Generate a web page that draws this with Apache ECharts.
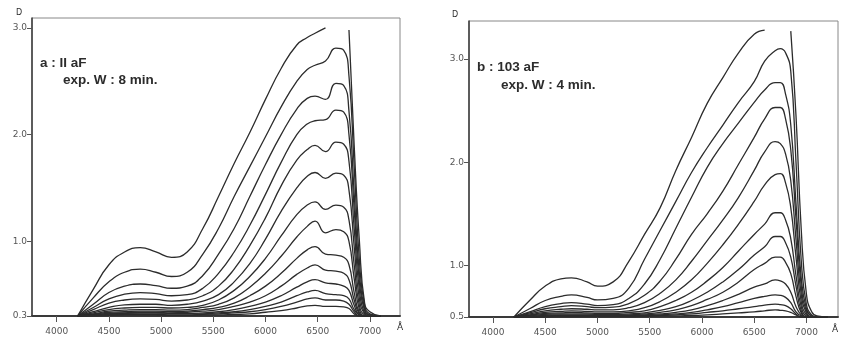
<!DOCTYPE html>
<html><head><meta charset="utf-8">
<script src="https://cdn.jsdelivr.net/npm/echarts@6/dist/echarts.min.js"></script>
<style>html,body{margin:0;padding:0;background:#fff}#c{width:841px;height:337px}</style>
</head><body><div id="c"></div>
<script>
// ---- Panel a : wavelength grid (Å) and density curves D ----
const waveA = [4200, 4350, 4500, 4650, 4800, 4950, 5100, 5250, 5400, 5550, 5700, 5850, 6000, 6150, 6300, 6400, 6475, 6575, 6675, 6750, 6800, 6850, 6900, 6950, 7000, 7100];
const a1  = [0.30, 0.55, 0.78, 0.90, 0.94, 0.90, 0.85, 0.90, 1.12, 1.42, 1.73, 2.02, 2.33, 2.62, 2.84, 2.91, 2.95, 3.00, '-', '-', 2.98, 1.90, 1.00, 0.42, 0.34, 0.30];
const a2  = [0.30, 0.47, 0.62, 0.71, 0.74, 0.71, 0.67, 0.71, 0.88, 1.12, 1.42, 1.70, 1.98, 2.26, 2.50, 2.61, 2.65, 2.69, 2.81, 2.79, 2.55, 1.70, 0.82, 0.40, 0.32, 0.30];
const a3  = [0.30, 0.41, 0.52, 0.58, 0.60, 0.585, 0.56, 0.58, 0.68, 0.88, 1.12, 1.42, 1.72, 2.00, 2.24, 2.34, 2.36, 2.33, 2.48, 2.46, 2.22, 1.45, 0.70, 0.37, 0.31, 0.30];
const a4  = [0.30, 0.38, 0.46, 0.505, 0.52, 0.51, 0.49, 0.50, 0.56, 0.70, 0.90, 1.15, 1.44, 1.74, 2.00, 2.10, 2.13, 2.14, 2.23, 2.21, 2.00, 1.30, 0.62, 0.35, 0.31, 0.30];
const a5  = [0.30, 0.36, 0.42, 0.45, 0.46, 0.455, 0.44, 0.45, 0.49, 0.58, 0.74, 0.96, 1.22, 1.52, 1.76, 1.86, 1.90, 1.84, 1.93, 1.91, 1.75, 1.12, 0.54, 0.33, 0.31, 0.30];
const a6  = [0.30, 0.34, 0.38, 0.405, 0.41, 0.41, 0.40, 0.41, 0.44, 0.50, 0.62, 0.79, 1.02, 1.28, 1.50, 1.61, 1.645, 1.59, 1.64, 1.62, 1.48, 0.95, 0.46, 0.32, 0.30, 0.30];
const a7  = [0.30, 0.33, 0.36, 0.375, 0.38, 0.38, 0.375, 0.38, 0.40, 0.45, 0.54, 0.67, 0.84, 1.05, 1.25, 1.34, 1.37, 1.30, 1.34, 1.32, 1.20, 0.78, 0.40, 0.31, 0.30, 0.30];
const a8  = [0.30, 0.32, 0.345, 0.355, 0.36, 0.36, 0.355, 0.36, 0.38, 0.41, 0.47, 0.57, 0.70, 0.86, 1.04, 1.14, 1.19, 1.08, 1.11, 1.09, 1.00, 0.65, 0.36, 0.30, 0.30, 0.30];
const a9  = [0.30, 0.315, 0.335, 0.34, 0.345, 0.345, 0.34, 0.345, 0.36, 0.38, 0.42, 0.49, 0.58, 0.70, 0.84, 0.92, 0.95, 0.88, 0.87, 0.85, 0.78, 0.52, 0.33, 0.30, 0.30, 0.30];
const a10 = [0.30, 0.31, 0.325, 0.33, 0.335, 0.335, 0.33, 0.335, 0.345, 0.36, 0.39, 0.43, 0.49, 0.58, 0.69, 0.75, 0.78, 0.73, 0.72, 0.70, 0.64, 0.45, 0.32, 0.30, 0.30, 0.30];
const a11 = [0.30, 0.31, 0.32, 0.325, 0.33, 0.33, 0.325, 0.325, 0.33, 0.34, 0.36, 0.39, 0.43, 0.49, 0.57, 0.62, 0.64, 0.61, 0.60, 0.58, 0.54, 0.40, 0.31, 0.30, 0.30, 0.30];
const a12 = [0.30, 0.305, 0.315, 0.32, 0.32, 0.32, 0.32, 0.32, 0.32, 0.33, 0.34, 0.36, 0.39, 0.43, 0.49, 0.525, 0.54, 0.51, 0.50, 0.49, 0.46, 0.36, 0.31, 0.30, 0.30, 0.30];
const a13 = [0.30, 0.305, 0.31, 0.315, 0.315, 0.315, 0.31, 0.31, 0.315, 0.32, 0.33, 0.34, 0.36, 0.39, 0.43, 0.46, 0.47, 0.45, 0.45, 0.44, 0.41, 0.34, 0.30, 0.30, 0.30, 0.30];
const a14 = [0.30, 0.30, 0.305, 0.31, 0.31, 0.31, 0.305, 0.305, 0.31, 0.31, 0.315, 0.32, 0.335, 0.35, 0.375, 0.395, 0.40, 0.39, 0.39, 0.385, 0.37, 0.32, 0.30, 0.30, 0.30, 0.30];

// ---- Panel b ----
const waveB = [4200, 4350, 4500, 4650, 4750, 4900, 5000, 5150, 5300, 5450, 5600, 5750, 5900, 6050, 6200, 6350, 6500, 6600, 6700, 6750, 6800, 6850, 6900, 6950, 7000, 7050, 7100, 7200];
const b1  = [0.50, 0.66, 0.80, 0.87, 0.88, 0.84, 0.80, 0.84, 1.04, 1.30, 1.56, 1.92, 2.24, 2.57, 2.82, 3.06, 3.24, 3.28, '-', '-', '-', 3.27, 2.45, 1.35, 0.72, 0.55, 0.51, 0.50];
const b2  = [0.50, 0.58, 0.66, 0.70, 0.715, 0.69, 0.665, 0.68, 0.78, 1.06, 1.34, 1.62, 1.90, 2.14, 2.36, 2.58, 2.78, 2.98, 3.08, 3.10, 3.06, 2.88, 2.00, 1.05, 0.62, 0.52, 0.50, 0.50];
const b3  = [0.50, 0.55, 0.60, 0.63, 0.64, 0.625, 0.61, 0.62, 0.68, 0.82, 1.06, 1.36, 1.66, 1.95, 2.18, 2.38, 2.58, 2.70, 2.77, 2.77, 2.66, 2.36, 1.60, 0.88, 0.58, 0.51, 0.50, 0.50];
const b4  = [0.50, 0.54, 0.58, 0.60, 0.61, 0.60, 0.59, 0.595, 0.63, 0.71, 0.85, 1.06, 1.30, 1.50, 1.72, 1.98, 2.24, 2.42, 2.53, 2.53, 2.42, 2.12, 1.45, 0.80, 0.56, 0.51, 0.50, 0.50];
const b5  = [0.50, 0.53, 0.56, 0.575, 0.58, 0.575, 0.57, 0.57, 0.59, 0.64, 0.73, 0.86, 1.04, 1.24, 1.44, 1.66, 1.92, 2.10, 2.20, 2.18, 2.08, 1.82, 1.25, 0.72, 0.54, 0.50, 0.50, 0.50];
const b6  = [0.50, 0.52, 0.545, 0.555, 0.56, 0.555, 0.55, 0.55, 0.56, 0.59, 0.65, 0.74, 0.86, 1.02, 1.20, 1.40, 1.62, 1.78, 1.88, 1.89, 1.80, 1.56, 1.08, 0.65, 0.52, 0.50, 0.50, 0.50];
const b7  = [0.50, 0.515, 0.535, 0.54, 0.545, 0.54, 0.535, 0.535, 0.545, 0.56, 0.60, 0.66, 0.74, 0.85, 0.98, 1.14, 1.30, 1.40, 1.51, 1.51, 1.44, 1.26, 0.90, 0.60, 0.51, 0.50, 0.50, 0.50];
const b8  = [0.50, 0.51, 0.525, 0.53, 0.53, 0.53, 0.525, 0.525, 0.53, 0.54, 0.565, 0.60, 0.66, 0.74, 0.84, 0.96, 1.10, 1.18, 1.28, 1.28, 1.22, 1.08, 0.80, 0.56, 0.50, 0.50, 0.50, 0.50];
const b9  = [0.50, 0.505, 0.515, 0.52, 0.52, 0.52, 0.52, 0.52, 0.52, 0.53, 0.545, 0.57, 0.61, 0.67, 0.74, 0.84, 0.96, 1.02, 1.08, 1.08, 1.03, 0.92, 0.70, 0.54, 0.50, 0.50, 0.50, 0.50];
const b10 = [0.50, 0.505, 0.51, 0.515, 0.515, 0.515, 0.515, 0.515, 0.515, 0.52, 0.53, 0.545, 0.57, 0.61, 0.66, 0.72, 0.79, 0.82, 0.86, 0.85, 0.82, 0.74, 0.60, 0.52, 0.50, 0.50, 0.50, 0.50];
const b11 = [0.50, 0.50, 0.505, 0.51, 0.51, 0.51, 0.51, 0.51, 0.51, 0.515, 0.52, 0.53, 0.545, 0.57, 0.60, 0.64, 0.68, 0.70, 0.715, 0.71, 0.69, 0.64, 0.55, 0.51, 0.50, 0.50, 0.50, 0.50];
const b12 = [0.50, 0.50, 0.505, 0.505, 0.505, 0.505, 0.505, 0.505, 0.505, 0.51, 0.515, 0.52, 0.53, 0.545, 0.56, 0.58, 0.60, 0.615, 0.625, 0.62, 0.61, 0.58, 0.53, 0.50, 0.50, 0.50, 0.50, 0.50];
const b13 = [0.50, 0.50, 0.50, 0.505, 0.505, 0.505, 0.505, 0.505, 0.505, 0.505, 0.51, 0.51, 0.515, 0.52, 0.53, 0.54, 0.55, 0.56, 0.57, 0.565, 0.56, 0.545, 0.52, 0.50, 0.50, 0.50, 0.50, 0.50];

// ---- tick values ----
const xTicks = [4000, 4500, 5000, 5500, 6000, 6500, 7000];
const yTicksA = [0.3, 1.0, 2.0, 3.0];
const yTicksB = [0.5, 1.0, 2.0, 3.0];

const curvesA = [a1, a2, a3, a4, a5, a6, a7, a8, a9, a10, a11, a12, a13, a14];
const curvesB = [b1, b2, b3, b4, b5, b6, b7, b8, b9, b10, b11, b12, b13];

const lineCol = '#2c2c2c';
function mk(vals, wave, gi) {
  return {
    type: 'line', xAxisIndex: gi, yAxisIndex: gi, silent: true,
    data: wave.map((w, i) => [w, vals[i]]),
    smooth: 0.5, symbol: 'none', clip: true,
    lineStyle: { color: lineCol, width: 1.3 }
  };
}

function xAx(gi, min, max) {
  return {
    type: 'value', gridIndex: gi, min: min, max: max,
    splitLine: { show: false },
    axisLine: { lineStyle: { color: '#3a3a3a', width: 2 } },
    axisTick: { customValues: xTicks, length: 6, lineStyle: { color: '#555', width: 1 } },
    axisLabel: { customValues: xTicks, margin: 11, fontSize: 9, color: '#555', fontFamily: 'DejaVu Sans',
      formatter: v => String(Math.round(v)) }
  };
}
function yAx(gi, min, max, ticks) {
  return {
    type: 'value', gridIndex: gi, min: min, max: max,
    splitLine: { show: false },
    axisLine: { show: true, lineStyle: { color: '#3a3a3a', width: 1.5 } },
    axisTick: { show: true, customValues: ticks, length: 5, lineStyle: { color: '#555', width: 1 } },
    axisLabel: { customValues: ticks, margin: 5, fontSize: 9, color: '#555', fontFamily: 'DejaVu Sans',
      formatter: v => Number(v).toFixed(1) }
  };
}

const chart = echarts.init(document.getElementById('c'), null, { renderer: 'canvas' });
const txt = (t, l, tp, font) => ({ type: 'text', left: l, top: tp, silent: true,
  style: { text: t, font: font, fill: '#2c2c2c' } });
const bold = 'bold 13.5px "Liberation Sans", Arial, sans-serif';
const small = '8px "DejaVu Sans", sans-serif';

chart.setOption({
  animation: false,
  backgroundColor: '#ffffff',
  grid: [
    { left: 32, top: 18, width: 368, height: 298, show: true, borderColor: '#888', borderWidth: 1 },
    { left: 469, top: 21, width: 369, height: 296, show: true, borderColor: '#888', borderWidth: 1 }
  ],
  xAxis: [xAx(0, 3763, 7289), xAx(1, 3770, 7302)],
  yAxis: [yAx(0, 0.3, 3.093, yTicksA), yAx(1, 0.5, 3.368, yTicksB)],
  series: curvesA.map(c => mk(c, waveA, 0)).concat(curvesB.map(c => mk(c, waveB, 1))),
  graphic: [
    txt('a : II aF', 40, 56, bold),
    txt('exp. W : 8 min.', 63, 73, bold),
    txt('b : 103 aF', 477, 60, bold),
    txt('exp. W : 4 min.', 501, 78, bold),
    txt('D', 16, 9, small),
    txt('D', 452, 11, small),
    txt('Å', 397, 323, '9px "DejaVu Sans", sans-serif'),
    txt('Å', 832, 325, '9px "DejaVu Sans", sans-serif')
  ]
});
</script></body></html>
